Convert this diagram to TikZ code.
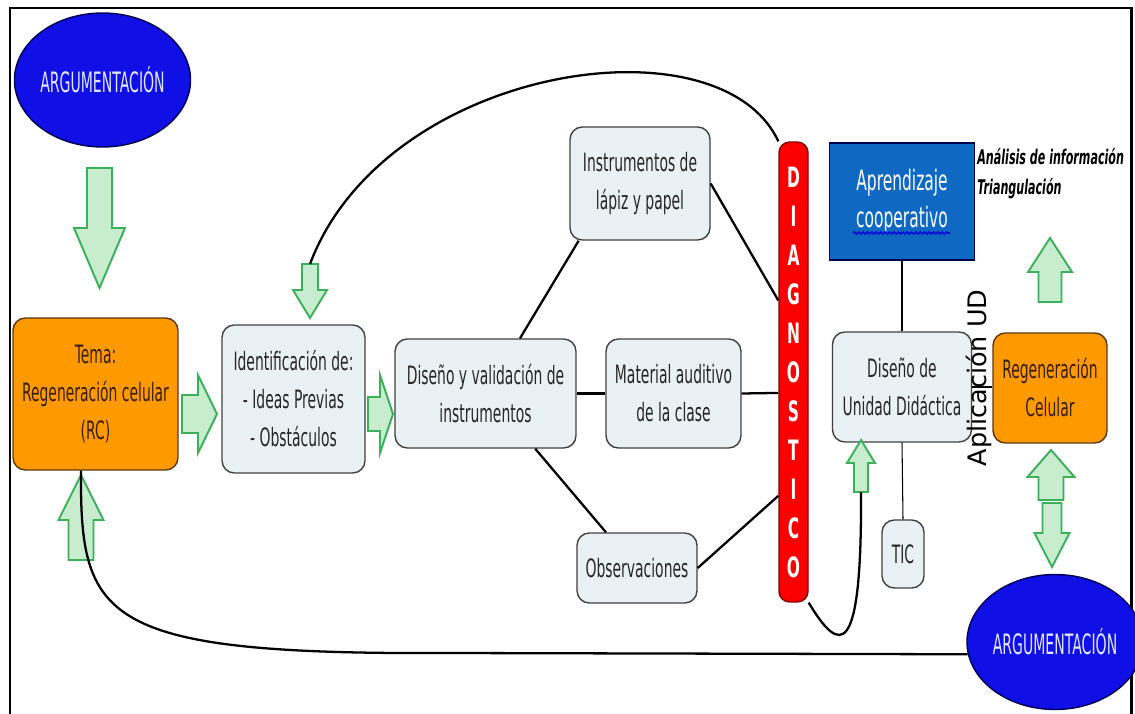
\documentclass[tikz,border=0pt]{standalone}
\usepackage{fontspec}
\newfontfamily\diagfont[FakeStretch=0.55]{DejaVu Sans}
\newfontfamily\argfont[FakeStretch=0.5]{DejaVu Sans}
\newfontfamily\aplfont{DejaVu Sans}
\usetikzlibrary{shapes.geometric,decorations.pathmorphing}

\definecolor{naranja}{RGB}{255,153,0}
\definecolor{bordenaranja}{RGB}{90,55,10}
\definecolor{textonaranja}{RGB}{55,30,5}
\definecolor{cajagris}{RGB}{234,241,245}
\definecolor{azulcaja}{RGB}{15,105,195}
\definecolor{azulelipse}{RGB}{15,15,230}
\definecolor{bordeazul}{RGB}{0,0,80}
\definecolor{verdeborde}{RGB}{60,175,90}
\definecolor{verderelleno}{RGB}{200,236,206}
\definecolor{rojo}{RGB}{250,0,0}
\definecolor{subrayado}{RGB}{10,10,215}

\tikzset{
  caja/.style={draw=black!75, line width=0.8pt, rounded corners=7pt, fill=cajagris,
    align=center, text=black!85, inner sep=0pt,
    font=\diagfont\fontsize{14.4}{21.6}\selectfont},
  cajanaranja/.style={caja, fill=naranja, draw=bordenaranja, text=textonaranja},
  elipse/.style={ellipse, draw=bordeazul, line width=0.8pt, fill=azulelipse,
    text={rgb,255:red,225;green,230;blue,255}, inner sep=0pt,
    font=\argfont\fontsize{16}{18}\selectfont},
  flechastyle/.style={draw=verdeborde, line width=1.1pt, fill=verderelleno},
  linea/.style={black, line width=1.3pt},
  lineafina/.style={black, line width=0.6pt},
  pics/flecha/.style args={#1/#2/#3/#4}{code={
    % #1 half shaft, #2 half head, #3 shaft length, #4 total length
    \coordinate (-tail) at (0,0);
    \coordinate (-tip) at (0,#4);
    \draw[flechastyle] (-#1,0) -- (-#1,#3) -- (-#2,#3) -- (0,#4)
      -- (#2,#3) -- (#1,#3) -- (#1,0) -- cycle;
  }}
}

\begin{document}
\begin{tikzpicture}[x=0.02cm, y=-0.02cm]
    \useasboundingbox (0,0) rectangle (1135,713);

    % Frame
    \draw[line width=1.7pt] (10,730) -- (10,8) -- (1131,8) -- (1131,730);

    % Left column
    \node[elipse, minimum width=2.98cm, minimum height=2.68cm] (argtop) at (102.5,80) {ARGUMENTACIÓN};
    \node[cajanaranja, minimum width=3.3cm, minimum height=3.04cm] (tema) at (95.5,394)
        {Tema:\\Regeneración celular\\(RC)};
    \pic (a1) at (99.5,168) {flecha=12.5/25.5/60/120};
    \pic[rotate=180] (a5) at (81,560) {flecha=12.5/22.5/40/85};

    % Middle row
    \node[caja, minimum width=2.86cm, minimum height=2.96cm] (ident) at (293.5,399)
        {Identificación de:\\- Ideas Previas\\- Obstáculos};
    \node[caja, minimum width=3.62cm, minimum height=2.18cm] (diseno) at (485.5,393.5)
        {Diseño y validación de\\instrumentos};
    \node[caja, minimum width=2.7cm, minimum height=2.18cm] (material) at (673.5,393.5)
        {Material auditivo\\de la clase};
    \node[caja, minimum width=2.8cm, minimum height=2.26cm] (lapiz) at (640,183.5)
        {Instrumentos de\\lápiz y papel};
    \node[caja, minimum width=2.4cm, minimum height=1.4cm] (obs) at (637,568) {Observaciones};
    \pic[rotate=90] (a3) at (182,414) {flecha=19/39/16/35};
    \pic[rotate=90] (a4) at (368,414) {flecha=17/39/12/25};
    \pic (a2) at (310,264) {flecha=8/17/26/54};

    % Diagnostico
    \node[draw={rgb,255:red,130;green,0;blue,0}, line width=0.8pt, fill=rojo, rounded corners=6pt,
        minimum width=0.58cm, minimum height=9.2cm, inner sep=0pt, align=center, text=white,
        font=\diagfont\bfseries\fontsize{16}{22.2}\selectfont] (diag) at (793.5,372)
        {D\\I\\A\\G\\N\\O\\S\\T\\I\\C\\O};

    % Right side
    \node[draw=bordeazul, line width=0.8pt, fill=azulcaja, text=white, align=center, inner sep=0pt,
        minimum width=2.9cm, minimum height=2.34cm,
        font=\diagfont\fontsize{16}{21}\selectfont] (aprend) at (902,201.5)
        {Aprendizaje\\cooperativo};
    \draw[subrayado, line width=0.9pt, decorate,
        decoration={snake, amplitude=0.6pt, segment length=2.5pt}] (853,233) -- (950,233);
    \node[anchor=north west, inner sep=0pt, align=left,
        font=\diagfont\bfseries\itshape\fontsize{11.5}{17}\selectfont] (analisis) at (977,148)
        {Análisis de información\\Triangulación};
    \node[caja, minimum width=2.78cm, minimum height=2.2cm] (dud) at (902,387)
        {Diseño de\\Unidad Didáctica};
    \node[caja, minimum width=0.84cm, minimum height=1.36cm] (tic) at (903,554) {TIC};
    \node[cajanaranja, minimum width=2.28cm, minimum height=2.2cm] (regen) at (1050,388)
        {Regeneración\\Celular};
    \node[elipse, minimum width=3.0cm, minimum height=2.7cm] (argbot) at (1055,642) {ARGUMENTACIÓN};
    \pic[rotate=180] (a6) at (861,492) {flecha=7/14/29/52};
    \pic[rotate=180] (a7) at (1050,302) {flecha=11.5/22/30/64};
    \pic[rotate=180] (a8) at (1051,500) {flecha=12.5/23.5/23/50};
    \pic (a9) at (1052,503) {flecha=9.5/17.5/30/64};

    % Connectors
    \draw[linea] (diseno.58) -- (lapiz.223);
    \draw[linea] (lapiz.east) -- (diag.102);
    \draw[linea] (diseno.east) -- (material.west);
    \draw[linea] (material.east) -- (diag.234);
    \draw[linea] (diseno.-48) -- (obs.131);
    \draw[linea] (obs.east) -- (diag.263.5);
    \draw[linea] (a2-tail) .. controls (385,65) and (720,15) .. (diag.north west);
    \draw[linea] (diag.south east) .. controls (840,655) and (862,660) .. (a6-tail);
    \draw[linea] (tema.south -| a5-tail) .. controls (80,620) and (100,655) .. (450,653)
        -- (argbot.188);
    \draw[lineafina] (aprend.south) -- (dud.north);
    \draw[lineafina] (dud.south) -- (tic.north);
    \draw[lineafina] (dud.east) -- (dud.east -| regen.west);

    % Aplicacion UD
    \node[rotate=90, inner sep=0pt, font=\aplfont\fontsize{14.5}{16}\selectfont] (aplic) at (979,378)
        {Aplicación UD};
\end{tikzpicture}
\end{document}
